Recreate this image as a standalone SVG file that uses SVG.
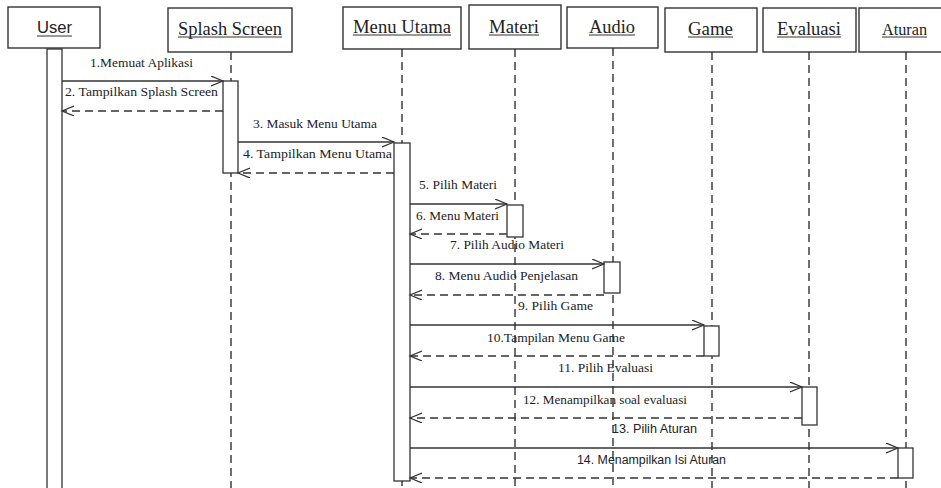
<svg xmlns="http://www.w3.org/2000/svg" width="941" height="488" viewBox="0 0 941 488">
<defs>
<marker id="ah" markerUnits="userSpaceOnUse" markerWidth="14" markerHeight="12" refX="12" refY="5" orient="auto">
<path d="M0,0 L12,5 L0,10" fill="none" stroke="#333" stroke-width="1.2"/>
</marker>
<style>
.box{fill:#fff;stroke:#333;stroke-width:1.4}
.act{fill:#fff;stroke:#333;stroke-width:1.3}
.life{stroke:#222;stroke-width:1.3;stroke-dasharray:8,5;fill:none}
.hs{font-family:"Liberation Serif",serif;font-size:18.5px;fill:#222;text-anchor:middle}
.hsans{font-family:"Liberation Sans",sans-serif;font-size:16px;fill:#222;text-anchor:middle}
.ul{stroke:#333;stroke-width:1}
.msg{stroke:#333;stroke-width:1.3;fill:none;marker-end:url(#ah)}
.ret{stroke:#333;stroke-width:1.3;fill:none;stroke-dasharray:8,5;marker-end:url(#ah)}
.ls{font-family:"Liberation Serif",serif;font-size:13px;fill:#222;text-anchor:middle}
.lsans{font-family:"Liberation Sans",sans-serif;font-size:12px;fill:#222;text-anchor:middle}
</style>
</defs>
<rect width="941" height="488" fill="#fff"/>

<g id="user">
<rect class="box" x="8" y="7" width="92" height="41"/>
<text class="hsans" x="54.5" y="33" textLength="35" lengthAdjust="spacingAndGlyphs">User</text>
<line class="ul" x1="37" y1="36" x2="72" y2="36"/>
<rect class="act" x="47" y="49" width="15" height="445"/>
</g>

<g id="splash">
<rect class="box" x="168" y="8" width="124" height="44"/>
<text class="hs" x="230" y="35" textLength="104" lengthAdjust="spacingAndGlyphs">Splash Screen</text>
<line class="ul" x1="178" y1="37" x2="282" y2="37"/>
<line class="life" x1="231" y1="52" x2="231" y2="488"/>
<rect class="act" x="223" y="81" width="15" height="92"/>
</g>

<g id="menu-utama">
<rect class="box" x="343" y="7" width="118" height="42"/>
<text class="hs" x="402" y="33" textLength="98" lengthAdjust="spacingAndGlyphs">Menu Utama</text>
<line class="ul" x1="353" y1="35" x2="451" y2="35"/>
<line class="life" x1="402" y1="49" x2="402" y2="488"/>
<rect class="act" x="394" y="143" width="16" height="338"/>
</g>

<g id="materi">
<rect class="box" x="469" y="5" width="92" height="44"/>
<text class="hs" x="514" y="33" textLength="50" lengthAdjust="spacingAndGlyphs">Materi</text>
<line class="ul" x1="489" y1="35" x2="539" y2="35"/>
<line class="life" x1="515" y1="49" x2="515" y2="488"/>
<rect class="act" x="507" y="205" width="16" height="32"/>
</g>

<g id="audio">
<rect class="box" x="567" y="7" width="91" height="41"/>
<text class="hs" x="612" y="33" textLength="46" lengthAdjust="spacingAndGlyphs">Audio</text>
<line class="ul" x1="589" y1="35" x2="635" y2="35"/>
<line class="life" x1="613" y1="48" x2="613" y2="488"/>
<rect class="act" x="604" y="262" width="16" height="31"/>
</g>

<g id="game">
<rect class="box" x="665" y="8" width="92" height="44"/>
<text class="hs" x="710.5" y="35" textLength="45" lengthAdjust="spacingAndGlyphs">Game</text>
<line class="ul" x1="688" y1="37" x2="733" y2="37"/>
<line class="life" x1="712" y1="52" x2="712" y2="488"/>
<rect class="act" x="704" y="326" width="15" height="30"/>
</g>

<g id="evaluasi">
<rect class="box" x="763" y="8" width="93" height="44"/>
<text class="hs" x="809" y="35" textLength="64" lengthAdjust="spacingAndGlyphs">Evaluasi</text>
<line class="ul" x1="777" y1="37" x2="841" y2="37"/>
<line class="life" x1="809" y1="52" x2="809" y2="488"/>
<rect class="act" x="802" y="387" width="15" height="38"/>
</g>

<g id="aturan">
<rect class="box" x="859" y="8" width="86" height="44"/>
<text class="hs" x="904.5" y="35" style="font-size:16px" textLength="45" lengthAdjust="spacingAndGlyphs">Aturan</text>
<line class="ul" x1="882" y1="37" x2="927" y2="37"/>
<line class="life" x1="906" y1="52" x2="906" y2="488"/>
<rect class="act" x="898" y="448" width="15" height="30"/>
</g>

<g id="connectors">
<line class="msg" x1="62" y1="81" x2="223" y2="81"/>
<text class="ls" x="141.5" y="67" textLength="103" lengthAdjust="spacingAndGlyphs">1.Memuat Aplikasi</text>
<line class="ret" x1="223" y1="111" x2="62" y2="111"/>
<text class="ls" x="141.5" y="96" textLength="153" lengthAdjust="spacingAndGlyphs">2. Tampilkan Splash Screen</text>
<line class="msg" x1="238" y1="142" x2="394" y2="142"/>
<text class="ls" x="315" y="128" textLength="124" lengthAdjust="spacingAndGlyphs">3. Masuk Menu Utama</text>
<line class="ret" x1="394" y1="173" x2="238" y2="173"/>
<text class="ls" x="317.5" y="158" textLength="149" lengthAdjust="spacingAndGlyphs">4. Tampilkan Menu Utama</text>
<line class="msg" x1="410" y1="204" x2="507" y2="204"/>
<text class="ls" x="458" y="189" textLength="78" lengthAdjust="spacingAndGlyphs">5. Pilih Materi</text>
<line class="ret" x1="507" y1="234" x2="410" y2="234"/>
<text class="ls" x="457.5" y="220" textLength="83" lengthAdjust="spacingAndGlyphs">6. Menu Materi</text>
<line class="msg" x1="410" y1="264" x2="604" y2="264"/>
<text class="ls" x="507" y="249" textLength="114" lengthAdjust="spacingAndGlyphs">7. Pilih Audio Materi</text>
<line class="ret" x1="604" y1="295" x2="410" y2="295"/>
<text class="ls" x="506.5" y="280" textLength="143" lengthAdjust="spacingAndGlyphs">8. Menu Audio Penjelasan</text>
<line class="msg" x1="410" y1="325" x2="704" y2="325"/>
<text class="ls" x="555.5" y="310" textLength="75" lengthAdjust="spacingAndGlyphs">9. Pilih Game</text>
<line class="ret" x1="704" y1="356" x2="410" y2="356"/>
<text class="ls" x="556" y="342" textLength="138" lengthAdjust="spacingAndGlyphs">10.Tampilan Menu Game</text>
<line class="msg" x1="410" y1="387" x2="802" y2="387"/>
<text class="ls" x="605.5" y="372" textLength="95" lengthAdjust="spacingAndGlyphs">11. Pilih Evaluasi</text>
<line class="ret" x1="802" y1="418" x2="410" y2="418"/>
<text class="ls" x="605" y="404" textLength="164" lengthAdjust="spacingAndGlyphs">12. Menampilkan soal evaluasi</text>
<line class="msg" x1="410" y1="448" x2="898" y2="448"/>
<text class="lsans" x="654.5" y="433" textLength="85" lengthAdjust="spacingAndGlyphs">13. Pilih Aturan</text>
<line class="ret" x1="898" y1="478" x2="410" y2="478"/>
<text class="lsans" x="651.5" y="464" textLength="149" lengthAdjust="spacingAndGlyphs">14. Menampilkan Isi Aturan</text>
</g>
</svg>
